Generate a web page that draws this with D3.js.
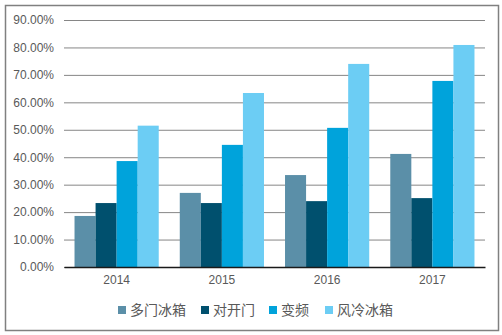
<!DOCTYPE html>
<html>
<head>
<meta charset="utf-8">
<script src="https://cdn.jsdelivr.net/npm/d3@7"></script>
<style>
  html, body { margin: 0; padding: 0; background: #fff; }
  svg { display: block; }
</style>
</head>
<body>
<svg id="chart" width="502" height="335"></svg>
<script>
const years = ["2014", "2015", "2016", "2017"];
const seriesNames = ["多门冰箱", "对开门", "变频", "风冷冰箱"];
const multiDoor = [18.6, 27.0, 33.5, 41.2];
const sideBySide = [23.3, 23.3, 24.0, 25.1];
const inverter = [38.6, 44.5, 50.7, 67.8];
const airCooled = [51.5, 63.4, 74.0, 80.9];
const yTicks = [0, 10, 20, 30, 40, 50, 60, 70, 80, 90];
const colors = ["#5b8fa8", "#00506e", "#00a3db", "#6ccdf4"];

const seriesValues = [multiDoor, sideBySide, inverter, airCooled];

const svg = d3.select("#chart");
const margin = { left: 64, right: 17, top: 20, bottom: 68 };
const W = 502, H = 335;
const font = "Liberation Sans, Arial, sans-serif";

// outer frame
svg.append("rect")
  .attr("x", 5.5).attr("y", 5.5)
  .attr("width", 493).attr("height", 325)
  .attr("fill", "#fff").attr("stroke", "#808080").attr("stroke-width", 1.5);

const x = d3.scaleBand().domain(years).range([margin.left, W - margin.right]).paddingInner(0.2).paddingOuter(0.1);
const xs = d3.scaleBand().domain(d3.range(seriesNames.length)).range([0, x.bandwidth()]);
const y = d3.scaleLinear().domain([0, 90]).range([H - margin.bottom, margin.top]);

// horizontal gridlines and y labels
const yAxis = d3.axisLeft(y).tickValues(yTicks).tickSize(-(W - margin.left - margin.right))
  .tickFormat(d => d.toFixed(2) + "%").tickPadding(10);
const gy = svg.append("g").attr("transform", `translate(${margin.left},0)`).call(yAxis);
gy.select(".domain").remove();
gy.selectAll(".tick line").attr("stroke", "#868686").attr("stroke-width", 1);
gy.selectAll(".tick text")
  .attr("fill", "#595959").attr("font-family", font).attr("font-size", 12);

// bars
const groups = svg.append("g").selectAll("g").data(years).join("g")
  .attr("transform", d => `translate(${x(d)},0)`);
groups.selectAll("rect")
  .data((d, i) => seriesValues.map((vals, s) => ({ s, v: vals[i] })))
  .join("rect")
  .attr("x", d => xs(d.s))
  .attr("width", xs.bandwidth())
  .attr("y", d => y(d.v))
  .attr("height", d => y(0) - y(d.v))
  .attr("fill", d => colors[d.s]);

// x axis
const gx = svg.append("g").attr("transform", `translate(0,${y(0)})`)
  .call(d3.axisBottom(x).tickSize(0).tickPadding(8));
gx.select(".domain").attr("stroke", "#1a1a1a").attr("stroke-width", 1.5);
gx.selectAll(".tick text")
  .attr("fill", "#595959").attr("font-family", font).attr("font-size", 12);

// legend
const legendX = [118, 201, 269, 325];
const legend = svg.append("g").selectAll("g").data(seriesNames).join("g")
  .attr("transform", (d, i) => `translate(${legendX[i]},310)`);
legend.append("rect").attr("x", 0).attr("y", -4).attr("width", 8).attr("height", 8)
  .attr("fill", (d, i) => colors[i]);
legend.append("text").attr("x", 12).attr("y", 0).attr("dy", "0.35em")
  .attr("fill", "#595959").attr("font-family", "Noto Sans CJK SC, sans-serif").attr("font-size", 14)
  .text(d => d);
</script>
</body>
</html>
